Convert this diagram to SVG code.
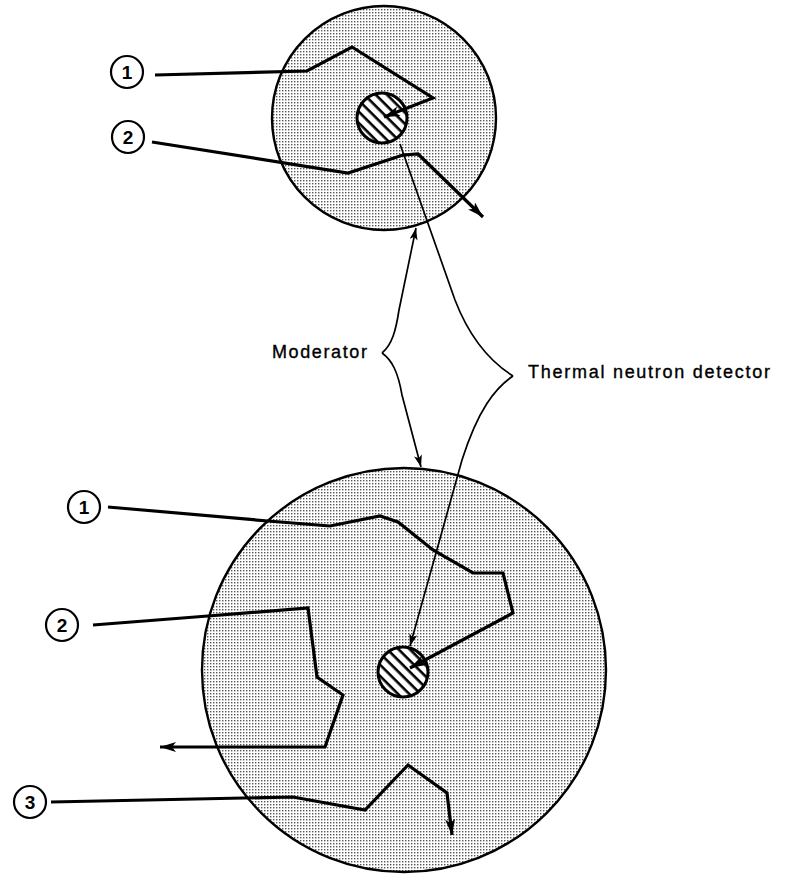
<svg xmlns="http://www.w3.org/2000/svg" width="800" height="874" viewBox="0 0 800 874">
<style>
.mod{fill:url(#dots);stroke:#000;stroke-width:2.4}
.det{fill:url(#hatch);stroke:#000;stroke-width:3}
.lbl{fill:#fff;stroke:#000;stroke-width:2.2}
.num{font-family:"Liberation Sans",Arial,sans-serif;font-size:19px;font-weight:bold;fill:#000;text-anchor:middle}
.txt{font-family:"Liberation Sans",Arial,sans-serif;font-size:18px;fill:#000;stroke:#000;stroke-width:0.35}
.path{fill:none;stroke:#000;stroke-width:3.2;stroke-linejoin:miter}
.thin{fill:none;stroke:#000;stroke-width:1.7}
</style>
<defs>
<pattern id="dots" width="3" height="3" patternUnits="userSpaceOnUse">
<rect width="3" height="3" fill="#fff"/>
<rect width="1.4" height="1.4" fill="#555"/>
</pattern>
<pattern id="hatch" width="8" height="8" patternUnits="userSpaceOnUse" patternTransform="rotate(45)">
<rect width="8" height="8" fill="#fff"/>
<rect width="8" height="2.6" fill="#000"/>
</pattern>
<marker id="arrT" markerUnits="userSpaceOnUse" markerWidth="17" markerHeight="12" refX="16" refY="5" orient="auto">
<path d="M0,0 L16,5 L0,10 L4,5 z" fill="#000"/>
</marker>
<marker id="arrS" markerUnits="userSpaceOnUse" markerWidth="13" markerHeight="10" refX="12" refY="4" orient="auto">
<path d="M0,0 L12,4 L0,8 L3,4 z" fill="#000"/>
</marker>
</defs>
<rect width="800" height="874" fill="#fff"/>

<g id="top-moderator">
<circle class="mod" cx="384" cy="118" r="112"/>
</g>
<g id="top-detector">
<circle class="det" cx="382" cy="118" r="25"/>
</g>
<g id="bottom-moderator">
<circle class="mod" cx="404" cy="670" r="202"/>
</g>
<g id="bottom-detector">
<circle class="det" cx="403" cy="672" r="25"/>
</g>

<g id="connectors">
<path class="path" d="M155,75 L307,71 L352,47 L433,98 L384,117" marker-end="url(#arrT)"/>
<path class="path" d="M152,142 L348,173 L403,155 L418,154 L483,217" marker-end="url(#arrT)"/>
<path class="path" d="M108,507 L268,521 L330,526 L380,516 L398,522 L433,550 L473,573 L503,573 L513,613 L410,668" marker-end="url(#arrT)"/>
<path class="path" d="M93,625 L208,616 L308,608 L317,677 L343,695 L325,747 L160,747" marker-end="url(#arrT)"/>
<path class="path" d="M51,802 L293,797 L365,810 L408,765 L447,793 L452,835" marker-end="url(#arrT)"/>
<path class="thin" d="M382,353 C392,345 396,330 399,310 L416,228" marker-end="url(#arrS)"/>
<path class="thin" d="M382,353 C392,360 398,372 402,395 L421,467" marker-end="url(#arrS)"/>
<path class="thin" d="M400,144 L455,300 Q475,352 513,376"/>
<path class="thin" d="M513,376 C495,388 478,410 462,460 L410,646" marker-end="url(#arrS)"/>
</g>

<g id="label-top-1"><circle class="lbl" cx="127" cy="72" r="16"/><text class="num" x="127" y="79">1</text></g>
<g id="label-top-2"><circle class="lbl" cx="128" cy="137" r="16"/><text class="num" x="128" y="144">2</text></g>
<g id="label-bot-1"><circle class="lbl" cx="84" cy="507" r="16"/><text class="num" x="84" y="514">1</text></g>
<g id="label-bot-2"><circle class="lbl" cx="62" cy="625" r="16"/><text class="num" x="62" y="632">2</text></g>
<g id="label-bot-3"><circle class="lbl" cx="30" cy="802" r="16"/><text class="num" x="30" y="809">3</text></g>

<g id="label-moderator"><text class="txt" x="272" y="358" textLength="95" lengthAdjust="spacing">Moderator</text></g>
<g id="label-detector"><text class="txt" x="528" y="378" textLength="242" lengthAdjust="spacing">Thermal neutron detector</text></g>
</svg>
